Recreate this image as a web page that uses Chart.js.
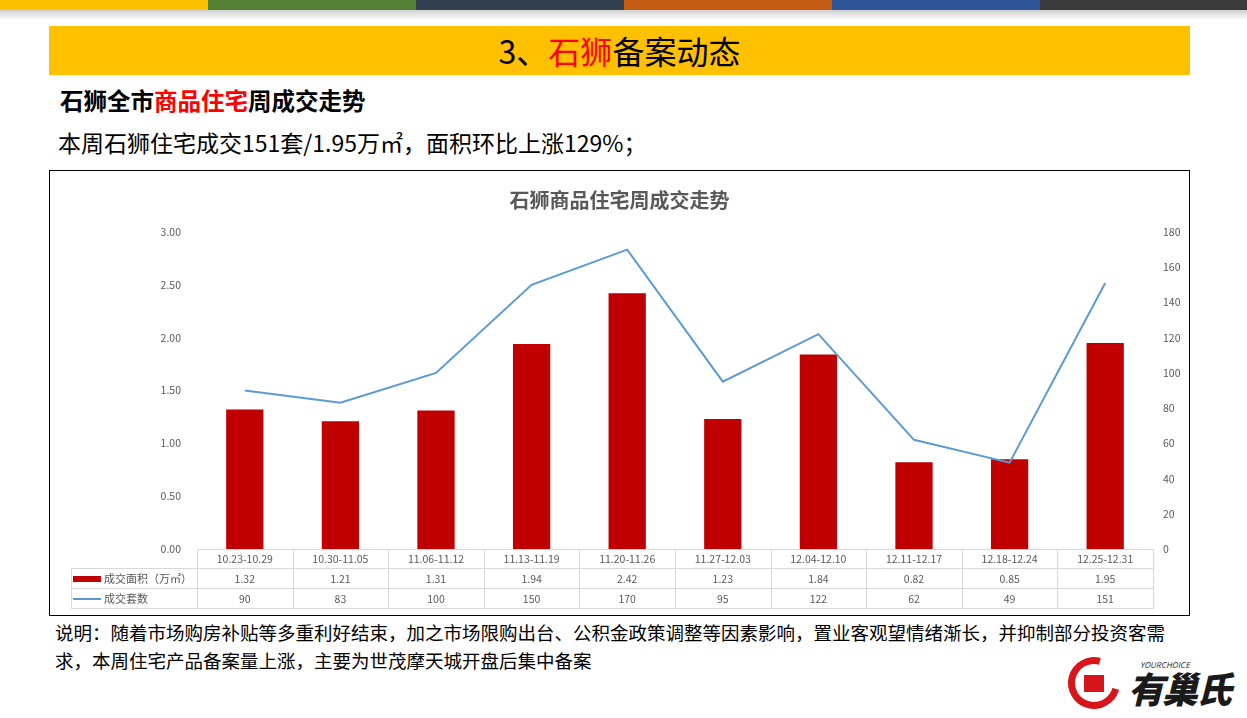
<!DOCTYPE html>
<html>
<head>
<meta charset="utf-8">
<script src="https://cdn.jsdelivr.net/npm/chart.js@4/dist/chart.umd.min.js"></script>
<style>
  body { margin: 0; width: 1247px; height: 718px; background: #fff; position: relative; overflow: hidden;
         font-family: "Noto Sans CJK SC", "Noto Sans", sans-serif; color: #000; }
  .stripe { position: absolute; top: 0; height: 10px; }
  .shade { position: absolute; top: 10px; left: 0; width: 1247px; height: 10px;
           background: linear-gradient(#d0d0d0, rgba(255,255,255,0)); }
  .header { position: absolute; left: 49px; top: 26px; width: 1141px; height: 49px; background: #ffc000;
            text-align: center; font-size: 32px; line-height: 49px; }
  .red { color: #ff0000; }
  .sub { position: absolute; left: 60px; top: 83px; font-size: 23.5px; font-weight: bold; }
  .line2 { position: absolute; left: 58px; top: 125px; font-size: 23px; }
  .box { position: absolute; left: 49px; top: 170px; width: 1139px; height: 444px; border: 1px solid #000; }
  .ctitle { position: absolute; left: 49px; top: 185px; width: 1141px; text-align: center; font-size: 20px;
            font-weight: bold; color: #595959; }
  .note { position: absolute; left: 55px; top: 618px; font-size: 18.5px; line-height: 28px; white-space: nowrap; }
  .logo { position: absolute; left: 1068px; top: 655px; width: 175px; height: 60px; }
  .ring { position: absolute; left: 0; top: 2px; width: 52px; height: 52px; border-radius: 50%;
          border: 7px solid #d7151b; border-right-color: transparent; box-sizing: border-box; transform: rotate(-30deg); }
  .house { position: absolute; left: 16px; top: 20px; width: 20px; height: 17px; background: #d7151b; }
  .brand { position: absolute; left: 60px; top: 10px; font-size: 36px; font-weight: 900; font-style: italic;
           color: #1a1a1a; letter-spacing: -2px; line-height: 44px; }
  .brandsm { position: absolute; left: 72px; top: 4px; font-size: 8px; font-style: italic; color: #333; }
</style>
</head>
<body>
<div class="stripe" style="left:0;width:208px;background:#ffc000"></div>
<div class="stripe" style="left:208px;width:208px;background:#548235"></div>
<div class="stripe" style="left:416px;width:208px;background:#323f4f"></div>
<div class="stripe" style="left:624px;width:208px;background:#c55a11"></div>
<div class="stripe" style="left:832px;width:208px;background:#2f5597"></div>
<div class="stripe" style="left:1040px;width:207px;background:#3a3a3a"></div>
<div class="shade"></div>

<div class="header">3、<span class="red">石狮</span>备案动态</div>
<div class="sub">石狮全市<span class="red">商品住宅</span>周成交走势</div>
<div class="line2">本周石狮住宅成交151套/1.95万㎡，面积环比上涨129%；</div>

<div class="box"><canvas id="myChart" width="1139" height="444"></canvas></div>
<div class="ctitle">石狮商品住宅周成交走势</div>

<div class="note">说明：随着市场购房补贴等多重利好结束，加之市场限购出台、公积金政策调整等因素影响，置业客观望情绪渐长，并抑制部分投资客需<br>求，本周住宅产品备案量上涨，主要为世茂摩天城开盘后集中备案</div>

<div class="logo">
  <div class="ring"></div><div class="house"></div>
  <div class="brandsm">YOURCHOICE</div>
  <div class="brand">有巢氏</div>
</div>

<script>
// 周次
var weeks = ["10.23-10.29", "10.30-11.05", "11.06-11.12", "11.13-11.19", "11.20-11.26",
             "11.27-12.03", "12.04-12.10", "12.11-12.17", "12.18-12.24", "12.25-12.31"];
// 成交面积（万㎡）
var areaValues = [1.32, 1.21, 1.31, 1.94, 2.42, 1.23, 1.84, 0.82, 0.85, 1.95];
// 成交套数
var unitCounts = [90, 83, 100, 150, 170, 95, 122, 62, 49, 151];

var areaLabel = "成交面积（万㎡）";
var countLabel = "成交套数";
var barColor = "#c00000";
var lineColor = "#5b9bd5";
var gridColor = "#d9d9d9";
var textColor = "#595959";
var tickFont = { family: "Noto Sans CJK SC", size: 10.5 };

// 底部数据表
var dataTable = {
  id: "dataTable",
  afterDraw: function (chart) {
    var ctx = chart.ctx;
    var area = chart.chartArea;
    var x = chart.scales.x;
    var rowH = 20;
    var top = area.bottom;
    var legendLeft = 21;
    var half = (x.getPixelForValue(1) - x.getPixelForValue(0)) / 2;
    ctx.save();
    ctx.strokeStyle = gridColor;
    ctx.lineWidth = 1;
    ctx.beginPath();
    ctx.moveTo(area.left, top + 0.5); ctx.lineTo(area.right, top + 0.5);
    for (var r = 1; r <= 3; r++) {
      ctx.moveTo(legendLeft, top + r * rowH - 0.5); ctx.lineTo(area.right, top + r * rowH - 0.5);
    }
    ctx.moveTo(legendLeft + 0.5, top + rowH); ctx.lineTo(legendLeft + 0.5, top + 3 * rowH);
    for (var i = 0; i <= weeks.length; i++) {
      var gx = Math.round(x.getPixelForValue(i) - half) + 0.5;
      ctx.moveTo(gx, top); ctx.lineTo(gx, top + 3 * rowH);
    }
    ctx.stroke();

    ctx.font = "10.5px 'Noto Sans CJK SC'";
    ctx.fillStyle = textColor;
    ctx.textAlign = "center";
    ctx.textBaseline = "middle";
    for (var j = 0; j < weeks.length; j++) {
      var cx = x.getPixelForValue(j);
      ctx.fillText(weeks[j], cx, top + rowH * 0.5);
      ctx.fillText(areaValues[j].toFixed(2), cx, top + rowH * 1.5);
      ctx.fillText(String(unitCounts[j]), cx, top + rowH * 2.5);
    }
    // 图例
    ctx.fillStyle = barColor;
    ctx.fillRect(legendLeft + 2, top + rowH * 1.5 - 3, 28, 6);
    ctx.strokeStyle = lineColor;
    ctx.lineWidth = 2;
    ctx.beginPath();
    ctx.moveTo(legendLeft + 2, top + rowH * 2.5); ctx.lineTo(legendLeft + 30, top + rowH * 2.5);
    ctx.stroke();
    ctx.fillStyle = textColor;
    ctx.textAlign = "left";
    ctx.font = "11px 'Noto Sans CJK SC'";
    ctx.fillText(areaLabel, legendLeft + 33, top + rowH * 1.5);
    ctx.fillText(countLabel, legendLeft + 33, top + rowH * 2.5);
    ctx.restore();
  }
};

new Chart("myChart", {
  data: {
    labels: weeks,
    datasets: [{
      type: "line",
      label: countLabel,
      data: unitCounts,
      yAxisID: "y1",
      borderColor: lineColor,
      borderWidth: 2,
      pointRadius: 0,
      tension: 0,
      order: 0
    }, {
      type: "bar",
      label: areaLabel,
      data: areaValues,
      yAxisID: "y",
      backgroundColor: barColor,
      barPercentage: 0.39,
      categoryPercentage: 1,
      order: 1
    }]
  },
  options: {
    responsive: false,
    animation: false,
    layout: { padding: { top: 61, bottom: 66, left: 0, right: 0 } },
    plugins: {
      legend: { display: false },
      title: { display: false },
      tooltip: { enabled: false }
    },
    scales: {
      x: { display: false },
      y: {
        position: "left",
        min: 0, max: 3,
        ticks: { stepSize: 0.5, padding: 16, color: textColor, font: tickFont,
                 callback: function (v) { return v.toFixed(2); } },
        grid: { display: false, drawTicks: false },
        border: { display: false },
        afterFit: function (s) { s.width = 147; }
      },
      y1: {
        position: "right",
        min: 0, max: 180,
        ticks: { stepSize: 20, padding: 10, color: textColor, font: tickFont },
        grid: { display: false, drawTicks: false },
        border: { display: false },
        afterFit: function (s) { s.width = 36; }
      }
    }
  },
  plugins: [dataTable]
});
</script>
</body>
</html>
